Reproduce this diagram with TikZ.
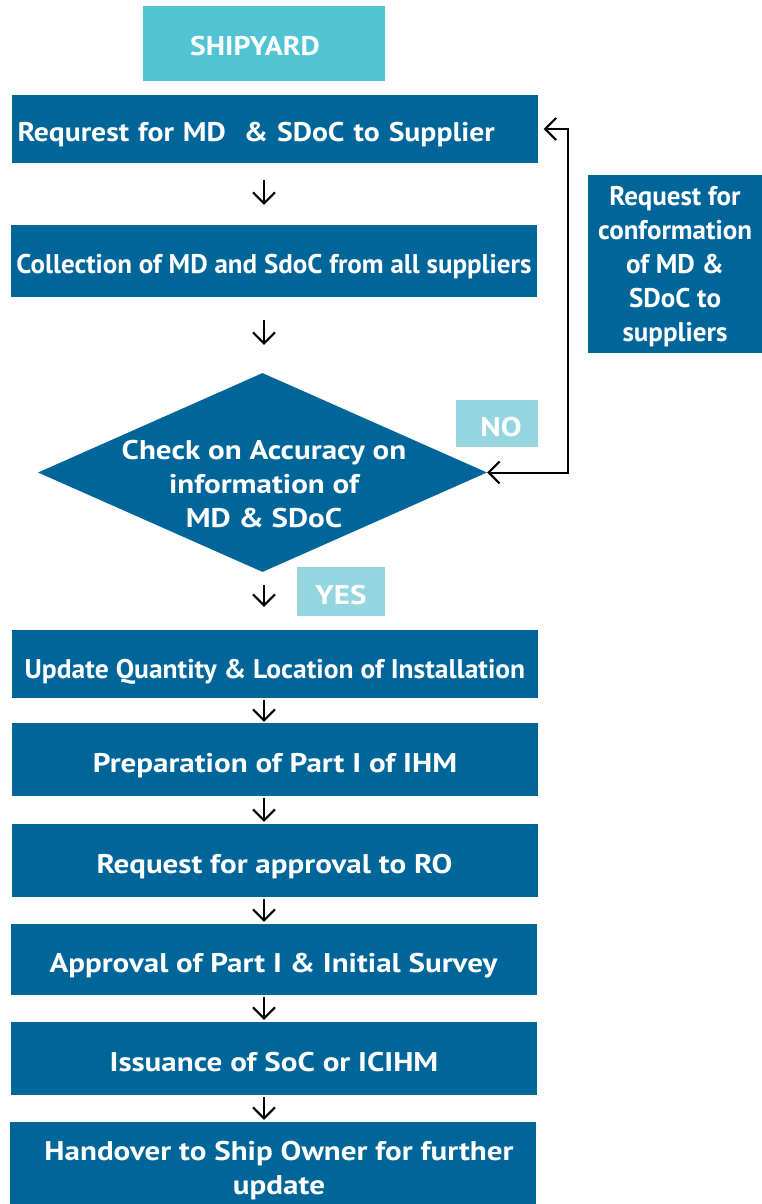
\documentclass[tikz,border=0pt]{standalone}
\usepackage{fontspec}
\setmainfont{PT Sans}
\newfontfamily\wideface{PT Sans}[FakeStretch=1.15]
\newfontfamily\midface{PT Sans}[FakeStretch=1.10]
\newfontfamily\slimface{PT Sans}[FakeStretch=1.02]
\usepackage{xcolor}
\usetikzlibrary{positioning, shapes.geometric, arrows.meta}

\definecolor{ihmblue}{RGB}{0,102,153}
\definecolor{ihmcyan}{RGB}{82,195,211}
\definecolor{ihmpale}{RGB}{149,213,224}

\begin{document}
\begin{tikzpicture}[x=1pt, y=-1pt]
  \tikzstyle{stage}=[draw=none, fill=ihmblue, text=white, font=\fontsize{27}{34}\selectfont\wideface\bfseries, inner sep=0, minimum width=526pt, minimum height=70pt, align=center, text depth=0pt]
  \tikzstyle{one-line}=[stage, text height=25pt]
  \tikzstyle{side-node}=[stage, minimum width=174pt, minimum height=178pt]
  \tikzstyle{tag}=[one-line, fill=ihmpale]
  \tikzstyle{flow}=[line width=2pt, -{Straight Barb[length=11pt, width=22pt]}]

  \useasboundingbox (0,0) rectangle (762,1204);

  \node [one-line, fill=ihmcyan, minimum width=242pt, minimum height=75pt, font=\fontsize{27}{34}\selectfont\midface\bfseries] (yard) at (264,43.5) {\hspace*{-18pt}SHIPYARD};

  \node [one-line, minimum height=68pt, text width=514pt, align=left, font=\fontsize{27}{34}\selectfont\midface\bfseries] (B1) at (274.5,129) {Requrest for MD~ \& SDoC to Supplier};
  \node [one-line, minimum height=72pt, font=\fontsize{27}{34}\selectfont\bfseries] (B2) at (274,261) {Collection of MD and SdoC from all suppliers};

  \node [diamond, fill=ihmblue, minimum width=449pt, minimum height=199pt, inner sep=0] (D) at (262.5,472.5) {};
  \node [stage, fill=none, minimum width=0pt, minimum height=0pt] (D-text) at (264,484) {Check on Accuracy on\\ information of\\ MD \& SDoC};

  \node [tag, minimum width=82pt, minimum height=47pt] (no) at (497,423.5) {\hspace*{8pt}NO};
  \node [tag, minimum width=88pt, minimum height=49pt] (yes) at (341,591.5) {YES};

  \node [side-node, font=\fontsize{27}{34}\selectfont\bfseries] (S) at (675,264) {Request for\\ conformation\\ of MD \&\\ SDoC to\\ suppliers};

  \node [one-line, minimum height=68pt, text height=28pt, font=\fontsize{27}{34}\selectfont\slimface\bfseries] (B3) at (275,664) {Update Quantity \& Location of Installation};
  \node [one-line, minimum height=73pt] (B4) at (275,759.5) {Preparation of Part I of IHM};
  \node [one-line, minimum height=73pt] (B5) at (274.5,860.5) {Request for approval to RO};
  \node [one-line, minimum height=71pt] (B6) at (273.5,959.5) {Approval of Part I \& Initial Survey};
  \node [one-line, minimum height=73pt] (B7) at (274,1058.5) {Issuance of SoC or ICIHM};
  \node [stage, minimum height=82pt, text height=62pt] (B8) at (273,1163) {\hspace*{12pt}Handover to Ship Owner for further\\ \hspace*{12pt}update};

  \coordinate (axis) at (264,0);
  \coordinate (bend) at (568,0);

  \draw [flow, shorten <=17pt, shorten >=20pt] (B1.south -| axis) -- (B2.north -| axis);
  \draw [flow, shorten <=23pt, shorten >=28pt] (B2.south -| axis) -- (D.north -| axis);
  \draw [flow, shorten <=13pt, shorten >=23pt] (D.south -| axis) -- (B3.north -| axis);
  \draw [flow, shorten <=2pt, shorten >=1pt] (B3.south -| axis) -- (B4.north -| axis);
  \draw [flow, shorten <=2pt, shorten >=2pt] (B4.south -| axis) -- (B5.north -| axis);
  \draw [flow, shorten <=2pt, shorten >=2pt] (B5.south -| axis) -- (B6.north -| axis);
  \draw [flow, shorten <=2pt, shorten >=2pt] (B6.south -| axis) -- (B7.north -| axis);
  \draw [flow, shorten <=2pt, shorten >=2pt] (B7.south -| axis) -- (B8.north -| axis);

  \draw [flow, {Straight Barb[length=11pt, width=22pt]}-{Straight Barb[length=11pt, width=22pt]}, shorten <=6pt] (B1.east) -- (B1.east -| bend) -- (D.east -| bend) -- (D.east);
\end{tikzpicture}
\end{document}
